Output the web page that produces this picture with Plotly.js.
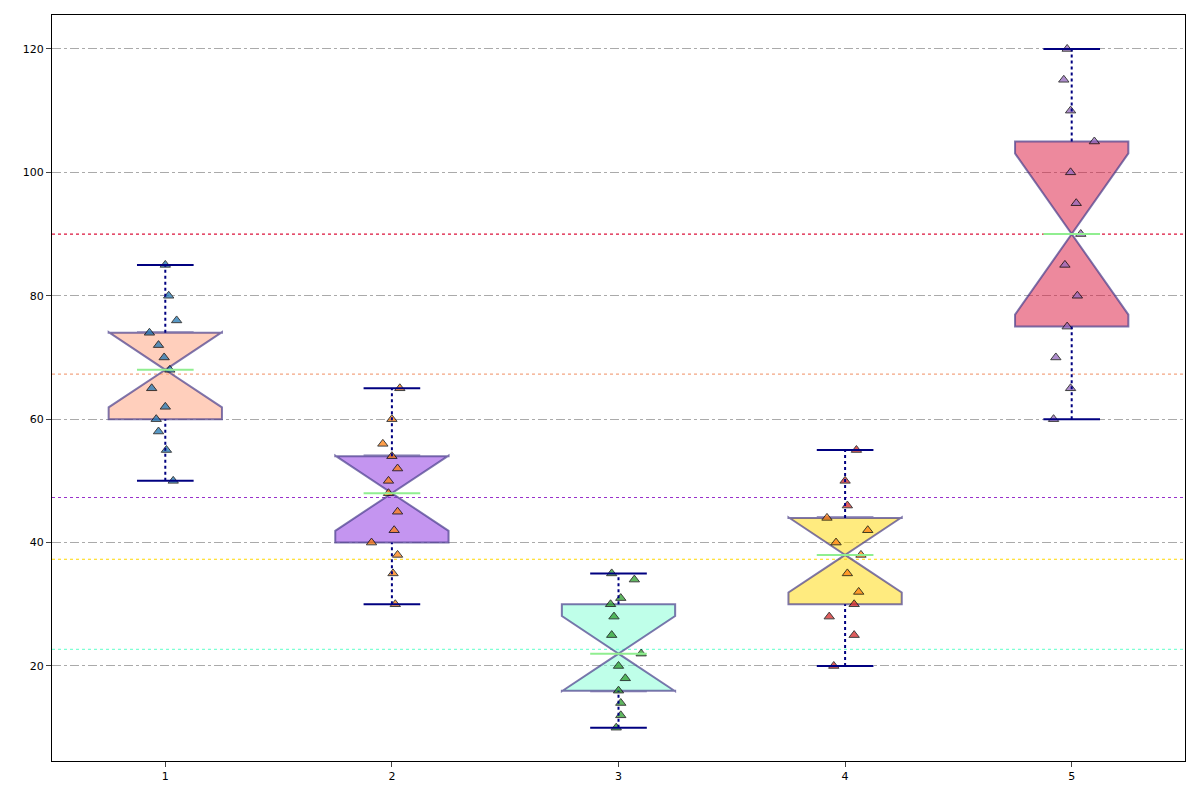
<html><head><script src="https://cdn.plot.ly/plotly-3.0.0.min.js"></script></head><body style="margin:0">
<div id="c" style="width:1200px;height:800px"></div>
<script>
const positions=[1,2,3,4,5];
const values=[
[85,80,76,74,72,70,68,65,62,60,58,55,50],
[65,60,56,54,52,50,48,45,42,40,38,35,30],
[35,34,31,30,28,25,22,20,18,16,14,12,10],
[55,50,46,44,42,40,38,35,32,30,28,25,20],
[120,115,110,105,100,95,90,85,80,75,70,65,60]];
const jitter=[
[1.0,1.015,1.05,0.93,0.97,0.995,1.02,0.94,1.0,0.96,0.97,1.005,1.035],
[2.035,2.0,1.96,2.0,2.025,1.985,1.985,2.025,2.01,1.91,2.025,2.005,2.015],
[2.97,3.07,3.01,2.965,2.98,2.97,3.1,3.0,3.03,3.0,3.01,3.01,2.99],
[4.05,4.0,4.01,3.92,4.1,3.96,4.07,4.01,4.06,4.04,3.93,4.04,3.95],
[4.98,4.965,4.995,5.1,4.995,5.02,5.04,4.97,5.025,4.98,4.93,4.995,4.92]];
const pointColors=[
Array(13).fill('#1f77b4'),Array(13).fill('#ff7f0e'),Array(13).fill('#2ca02c'),
['#d62728','#d62728','#d62728','#ff7f0e','#ff7f0e','#ff7f0e','#ff7f0e','#ff7f0e','#ff7f0e','#d62728','#d62728','#d62728','#d62728'],
Array(13).fill('#9467bd')];
const q1=[60,40,16,30,75], med=[68,48,22,38,90], q3=[74,54,30,44,105], lo=[50,30,10,20,60], hi=[85,65,35,55,120];
const means=[67.3,47.3,22.7,37.3,90];
const fills=['rgba(255,160,122,0.5)','rgba(138,43,226,0.5)','rgba(127,255,212,0.5)','rgba(255,215,0,0.5)','rgba(220,20,60,0.5)'];
const meanColors=['#f4a582','#9932cc','#7fffd4','#ffd700','#dc143c'];
const traces=[];
positions.forEach((p,i)=>{
  traces.push({type:'scatter',mode:'markers',x:jitter[i],y:values[i],showlegend:false,
    marker:{symbol:'triangle-up',size:9,color:pointColors[i],opacity:0.75,line:{color:'black',width:1}}});
});
positions.forEach((p,i)=>{
  const n=values[i].length, span=1.57*(q3[i]-q1[i])/Math.sqrt(n);
  traces.push({type:'box',x:[p],q1:[q1[i]],median:[med[i]],q3:[q3[i]],lowerfence:[q1[i]],upperfence:[q3[i]],
    notched:true,notchspan:[span],notchwidth:0.5,width:0.5,fillcolor:fills[i],
    line:{color:'rgba(72,61,139,0.7)',width:2},boxpoints:false,showlegend:false,hoverinfo:'skip'});
  traces.push({type:'scatter',mode:'lines',x:[p,p,null,p,p],y:[lo[i],q1[i],null,q3[i],hi[i]],showlegend:false,
    line:{color:'navy',width:2,dash:'dot'}});
  traces.push({type:'scatter',mode:'lines',x:[p-0.125,p+0.125,null,p-0.125,p+0.125],y:[lo[i],lo[i],null,hi[i],hi[i]],showlegend:false,
    line:{color:'navy',width:2}});
  traces.push({type:'scatter',mode:'lines',x:[p-0.125,p+0.125],y:[med[i],med[i]],showlegend:false,
    line:{color:'lightgreen',width:2}});
});
const shapes=means.map((m,i)=>({type:'line',xref:'paper',x0:0,x1:1,y0:m,y1:m,layer:'below',line:{color:meanColors[i],width:1.2,dash:'dot'}}));
Plotly.newPlot('c',traces,{width:1200,height:800,margin:{l:52,r:15,t:15,b:39},
  plot_bgcolor:'white',paper_bgcolor:'white',shapes,
  xaxis:{range:[0.5,5.5],tickvals:positions,ticks:'outside',showgrid:false,zeroline:false,showline:true,mirror:true,linecolor:'black',tickfont:{family:'DejaVu Sans',size:11,color:'black'}},
  yaxis:{range:[4.6,125.5],tickvals:[20,40,60,80,100,120],ticks:'outside',showgrid:true,gridcolor:'#aaa',griddash:'dashdot',zeroline:false,showline:true,mirror:true,linecolor:'black',tickfont:{family:'DejaVu Sans',size:11,color:'black'}}
},{staticPlot:true});
</script></body></html>
